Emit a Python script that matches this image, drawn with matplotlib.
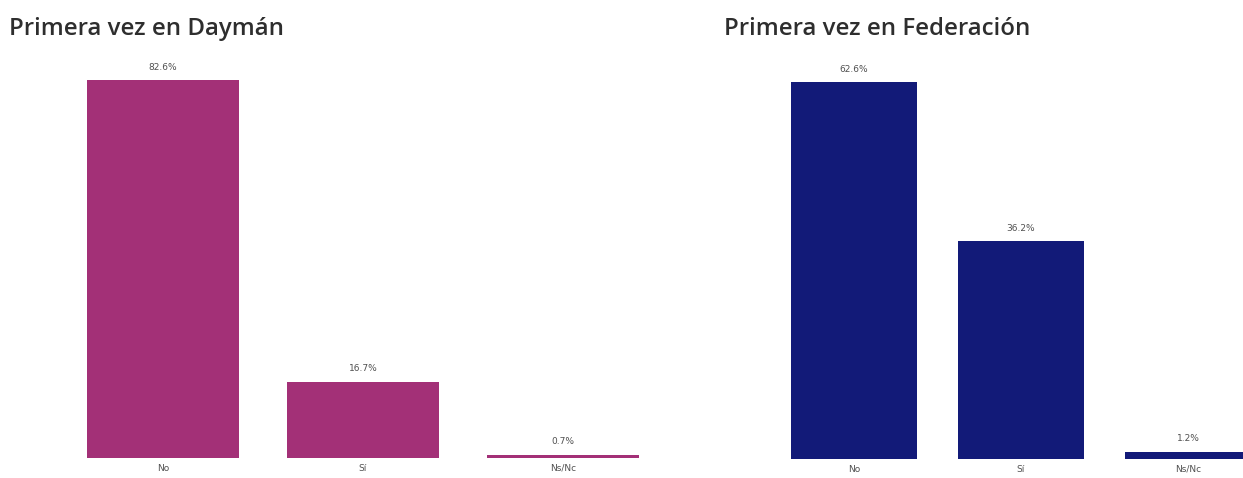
import matplotlib
matplotlib.use("Agg")
import matplotlib.pyplot as plt

# Survey answers: first visit to each place
categories = ["No", "Sí", "Ns/Nc"]
dayman_pct = [82.6, 16.7, 0.7]
federacion_pct = [62.6, 36.2, 1.2]

W, H = 1243, 478
fig = plt.figure(figsize=(W / 100, H / 100), dpi=100)


def px_axes(x0, y_top, width, y_bottom):
    """Axes placed from pixel coordinates (origin top-left)."""
    return fig.add_axes([x0 / W, 1 - y_bottom / H, width / W, (y_bottom - y_top) / H])


def draw_panel(ax, values, color, title, title_x):
    x = range(len(categories))
    bars = ax.bar(x, values, width=0.76, color=color)
    ax.set_xlim(-0.5, len(categories) - 0.5)
    # top of the tallest bar sits 20px under the axes top
    ax.set_ylim(0, max(values) * 398 / 378)
    for b, v in zip(bars, values):
        ax.annotate(f"{v:.1f}%", (b.get_x() + b.get_width() / 2, v),
                    xytext=(0, 6), textcoords="offset points",
                    ha="center", va="bottom", fontsize=6.5, color="#505050")
    ax.set_xticks(list(x))
    ax.set_xticklabels(categories, fontsize=6.5, color="#505050")
    ax.tick_params(axis="x", length=0, pad=4)
    ax.set_yticks([])
    for s in ax.spines.values():
        s.set_visible(False)
    fig.text(title_x / W, 1 - 35 / H, title, fontsize=17.3, fontweight="semibold",
             family="Open Sans", color="#2e2e2e", ha="left", va="baseline")


ax1 = px_axes(63, 60, 600, 458)
draw_panel(ax1, dayman_pct, "#A33077", "Primera vez en Daymán", 9)

ax2 = px_axes(770.5, 62, 501, 459)
draw_panel(ax2, federacion_pct, "#121A78", "Primera vez en Federación", 724)

fig.savefig("out.png", dpi=100)
